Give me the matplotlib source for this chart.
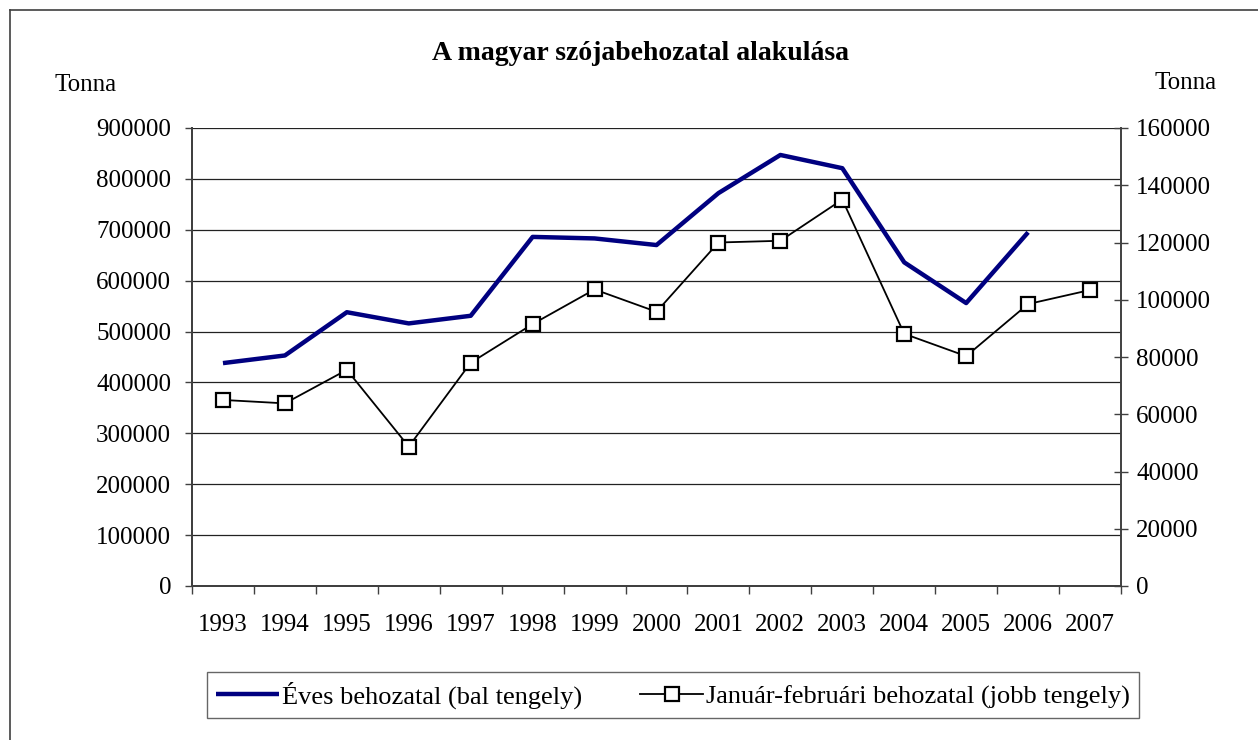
import matplotlib
matplotlib.use("Agg")
import matplotlib.pyplot as plt
import numpy as np
from matplotlib.lines import Line2D

years = ["1993", "1994", "1995", "1996", "1997", "1998", "1999", "2000",
         "2001", "2002", "2003", "2004", "2005", "2006", "2007"]

# Éves behozatal (bal tengely), no 2007 value
eves = [438000, 453000, 538000, 516000, 531000, 686000, 683000, 670000,
        772000, 847000, 821000, 636000, 556000, 695000]

# Január-februári behozatal (jobb tengely)
jan_feb = [65000, 63800, 75500, 48700, 78000, 91500, 103600, 95800,
           120000, 120600, 135000, 88100, 80300, 98500, 103400]

plt.rcParams["font.family"] = ["Liberation Serif", "DejaVu Serif"]

W, H = 1258, 740
fig = plt.figure(figsize=(W / 100, H / 100), dpi=100)

# outer chart frame (clipped at right and bottom in the original)
fig.add_artist(Line2D([10 / W, 10 / W], [1 - 10 / H, -0.1], color="#404040", lw=1.2))
fig.add_artist(Line2D([10 / W, 1.1], [1 - 10 / H, 1 - 10 / H], color="#404040", lw=1.2))

ax = fig.add_axes([192 / W, 1 - 586 / H, (1121 - 192) / W, (586 - 128) / H])
ax2 = ax.twinx()

x = np.arange(len(years))

ax.plot(x[:len(eves)], eves, color="#000080", lw=3.2, solid_capstyle="butt",
        zorder=3, label="Éves behozatal (bal tengely)")
ax2.plot(x, jan_feb, color="black", lw=1.3, marker="s", markersize=10,
         markerfacecolor="white", markeredgecolor="black", markeredgewidth=1.6,
         label="Január-februári behozatal (jobb tengely)")

ax.set_xlim(-0.5, len(years) - 0.5)
ax.set_ylim(0, 900000)
ax2.set_ylim(0, 160000)

ax.set_yticks(np.arange(0, 900001, 100000))
ax.set_yticklabels([str(v) for v in range(0, 900001, 100000)])
ax2.set_yticks(np.arange(0, 160001, 20000))
ax2.set_yticklabels([str(v) for v in range(0, 160001, 20000)])

ax.set_xticks(np.arange(-0.5, len(years), 1.0))
ax.set_xticklabels([])
ax.set_xticks(x, minor=True)
ax.set_xticklabels(years, minor=True)

ax.grid(axis="y", color="#222222", lw=0.9)
ax.set_axisbelow(True)

for a in (ax, ax2):
    a.spines["top"].set_visible(False)
for s in ("left", "right", "bottom"):
    ax2.spines[s].set_color("#404040")
    ax2.spines[s].set_linewidth(1.4)
ax.spines["right"].set_visible(False)
ax.spines["left"].set_color("#404040")
ax.spines["left"].set_linewidth(1.4)
ax.spines["bottom"].set_color("#404040")
ax.spines["bottom"].set_linewidth(1.4)

fs = 18
ax.tick_params(axis="y", direction="out", length=5, width=1, color="#404040",
               labelsize=fs, pad=10)
ax.tick_params(axis="x", which="major", direction="out", length=6, width=1,
               color="#404040")
ax.tick_params(axis="x", which="minor", length=0, labelsize=fs, pad=20)
ax2.tick_params(axis="y", direction="inout", length=10, width=1, color="#404040",
                labelsize=fs, pad=6)

fig.text(640 / W, 1 - 53 / H, "A magyar szójabehozatal alakulása",
         ha="center", va="center", fontsize=20, fontweight="bold")
fig.text(86 / W, 1 - 85 / H, "Tonna", ha="center", va="center", fontsize=fs)
fig.text(1186 / W, 1 - 83 / H, "Tonna", ha="center", va="center", fontsize=fs)

h1, l1 = ax.get_legend_handles_labels()
h2, l2 = ax2.get_legend_handles_labels()
leg = fig.legend(h1 + h2, l1 + l2, loc="center", ncol=2,
                 bbox_to_anchor=(673 / W, 1 - 695 / H), fontsize=19,
                 frameon=True, fancybox=False, edgecolor="#404040",
                 handlelength=2.4, handletextpad=0.1, columnspacing=2.2,
                 borderpad=0.35)
leg.get_frame().set_linewidth(1.0)

fig.savefig("out.png", dpi=100)
